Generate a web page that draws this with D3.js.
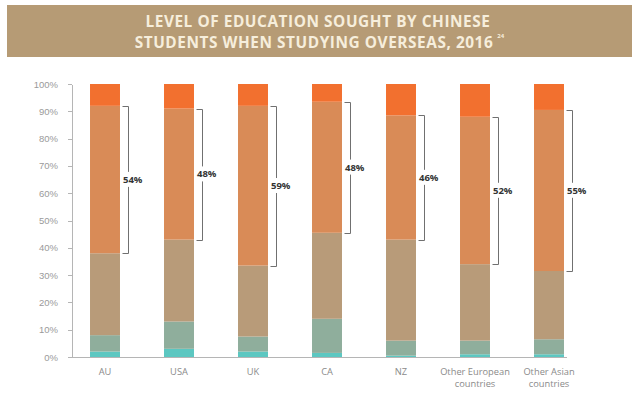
<!DOCTYPE html>
<html lang="en">
  <head>
    <meta charset="utf-8" />
    <title>education sought</title>
    <script src="https://d3js.org/d3.v7.min.js"></script>
    <style>
      body {
        padding: 0;
        margin: 0;
        background: #fff;
      }
      svg {
        display: block;
        font-family: "Open Sans", sans-serif;
      }
      .axisLeft text {
        fill: #9a9a9a;
        font-size: 9.5px;
      }
      .axisLeft line, .axisLeft path {
        stroke: #b5b5b5;
        shape-rendering: crispEdges;
      }
    </style>
  </head>
  <body>
    <svg id="chart" width="640" height="394"></svg>

    <script>

      // data (percent of students, bottom to top)
      var countries = ["AU", "USA", "UK", "CA", "NZ", "Other European|countries", "Other Asian|countries"];
      var teal     = [2,   3,  2,    1.5, 0.5,  1,  1];
      var greyTeal = [6,  10,  5.5, 12.5, 5.5,  5,  5.5];
      var tan      = [30, 30, 26,   31.5, 37,  28, 25];
      var orange   = [54, 48, 58.5, 48,   45.5, 54, 59];
      var red      = [8,   9,  8,    6.5, 11.5, 12,  9.5];
      var bracketLabels = ["54%", "48%", "59%", "48%", "46%", "52%", "55%"];
      var yTicks = [0, 10, 20, 30, 40, 50, 60, 70, 80, 90, 100];
      var titleLines = ["LEVEL OF EDUCATION SOUGHT BY CHINESE", "STUDENTS WHEN STUDYING OVERSEAS, 2016"];

      var layerNames = ["teal", "greyTeal", "tan", "orange", "red"];
      var layerColors = ["#5cc7c1", "#8fae9c", "#b89b79", "#d98b57", "#f2702f"];

      var rows = countries.map(function(c, i){
        return {
          country: c,
          teal: teal[i],
          greyTeal: greyTeal[i],
          tan: tan[i],
          orange: orange[i],
          red: red[i],
          label: bracketLabels[i]
        };
      });

      var svg = d3.select("#chart");

      // title banner
      svg.append("rect")
        .attr("x", 7)
        .attr("y", 5)
        .attr("width", 625)
        .attr("height", 52)
        .attr("fill", "#b69b75");
      var titles = svg.append("g")
        .selectAll("text")
        .data(titleLines)
        .enter()
        .append("text")
        .attr("text-anchor", "middle")
        .attr("x", function(d, i){ return i ? 314 : 318; })
        .attr("y", function(d, i){ return 26.5 + i * 21; })
        .attr("fill", "#f6eedc")
        .attr("font-weight", 700)
        .attr("font-size", "15.4px")
        .attr("letter-spacing", "0.55px")
        .text(function(d){ return d; });
      var line2 = titles.nodes()[1].getBBox();
      svg.append("text")
        .attr("x", line2.x + line2.width + 4)
        .attr("y", 38)
        .attr("fill", "#f6eedc")
        .attr("font-size", "6px")
        .attr("font-weight", 700)
        .text("24");

      // scales
      var x = d3.scaleBand()
        .domain(countries)
        .range([68, 586])
        .paddingInner(0.595)
        .paddingOuter(0.2975);
      var y = d3.scaleLinear()
        .domain([0, 100])
        .range([357, 84]);

      // y axis
      svg.append("g")
        .attr("class", "axisLeft")
        .attr("transform", "translate(72,0)")
        .call(d3.axisLeft(y)
          .tickValues(yTicks)
          .tickSize(4)
          .tickSizeOuter(0)
          .tickPadding(10)
          .tickFormat(function(d){ return d + "%"; }));

      // baseline
      svg.append("line")
        .attr("x1", 72)
        .attr("x2", 567)
        .attr("y1", y(0))
        .attr("y2", y(0))
        .attr("stroke", "#b5b5b5")
        .attr("shape-rendering", "crispEdges");

      // stacked bars
      var stack = d3.stack().keys(layerNames);
      var series = stack(rows);

      svg.append("g")
        .selectAll("g")
        .data(series)
        .enter()
        .append("g")
        .attr("fill", function(d, i){ return layerColors[i]; })
        .selectAll("rect")
        .data(function(d){ return d; })
        .enter()
        .append("rect")
        .attr("x", function(d){ return x(d.data.country); })
        .attr("y", function(d){ return y(d[1]); })
        .attr("width", x.bandwidth())
        .attr("height", function(d){ return y(d[0]) - y(d[1]); });

      // brackets round the orange segment
      var orangeSeries = series[3];
      var brackets = svg.append("g")
        .selectAll("g")
        .data(orangeSeries)
        .enter()
        .append("g");

      brackets.append("path")
        .attr("fill", "none")
        .attr("stroke", "#707070")
        .attr("stroke-width", 1)
        .attr("d", function(d){
          var bx = Math.round(x(d.data.country) + x.bandwidth() + 8) + 0.5;
          var y1 = Math.round(y(d[1])) + 0.5;
          var y0 = Math.round(y(d[0])) + 0.5;
          return "M" + (bx - 6) + "," + y1 + "H" + bx + "V" + y0 + "H" + (bx - 6);
        });

      brackets.each(function(d){
        var g = d3.select(this);
        var bx = x(d.data.country) + x.bandwidth() + 8;
        var my = (y(d[0]) + y(d[1])) / 2;
        var t = g.append("text")
          .attr("x", bx - 5)
          .attr("y", my)
          .attr("dy", "0.35em")
          .attr("font-size", "9.5px")
          .attr("font-weight", 700)
          .attr("fill", "#333")
          .text(d.data.label);
        var bb = t.node().getBBox();
        g.insert("rect", "text")
          .attr("x", bb.x - 1)
          .attr("y", bb.y - 1)
          .attr("width", bb.width + 2)
          .attr("height", bb.height + 2)
          .attr("fill", "#fff");
      });

      // x labels, one text per line
      var xLabelGroups = svg.append("g")
        .selectAll("g")
        .data(countries)
        .enter()
        .append("g");
      xLabelGroups.each(function(d){
        var g = d3.select(this);
        d.split("|").forEach(function(line, j){
          g.append("text")
            .attr("text-anchor", "middle")
            .attr("fill", "#8a8a8a")
            .attr("font-size", "9.3px")
            .attr("x", x(d) + x.bandwidth() / 2)
            .attr("y", 374.5 + j * 12)
            .text(line);
        });
      });

    </script>
  </body>
</html>
